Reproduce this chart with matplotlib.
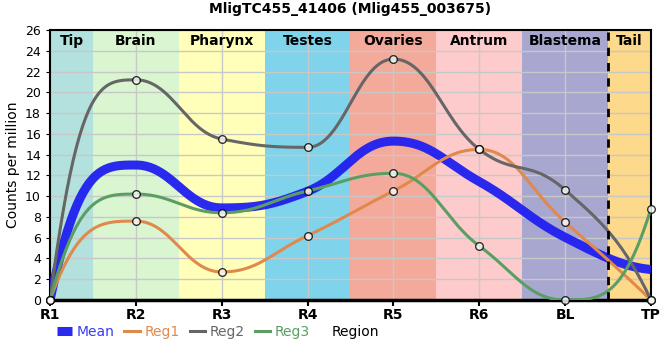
import matplotlib.pyplot as plt
import numpy as np

regions = ['R1', 'R2', 'R3', 'R4', 'R5', 'R6', 'BL', 'TP']
reg1 = [0, 7.6, 2.7, 6.2, 10.5, 14.5, 7.5, 0]
reg2 = [0, 21.2, 15.5, 14.7, 23.2, 14.5, 10.6, 0]
reg3 = [0, 10.2, 8.4, 10.5, 12.2, 5.2, 0, 8.8]
mean = list(np.mean([reg1, reg2, reg3], axis=0))

band_names = ['Tip', 'Brain', 'Pharynx', 'Testes', 'Ovaries', 'Antrum', 'Blastema', 'Tail']
band_edges = [0, 0.5, 1.5, 2.5, 3.5, 4.5, 5.5, 6.5, 7]
band_colors = ['#b3e1dd', '#d9f6d1', '#ffffb9', '#7fd3ea', '#f4aa9b', '#fdcbcb', '#a8a7cf', '#fdd98b']


def monotone(x, y, n=50, k=0.42):
    # monotone cubic, steep end tangents + long handles like the original chart
    x = np.asarray(x, float)
    y = np.asarray(y, float)
    h = np.diff(x)
    s = np.diff(y) / h
    t = np.zeros(len(x))
    for i in range(1, len(x) - 1):
        p = (s[i - 1] * h[i] + s[i] * h[i - 1]) / (h[i - 1] + h[i])
        t[i] = (np.sign(s[i - 1]) + np.sign(s[i])) * min(abs(s[i - 1]), abs(s[i]), 0.5 * abs(p))
    t[0] = 3 * s[0] - 2 * t[1]
    t[-1] = 3 * s[-1] - 2 * t[-2]
    if np.sign(t[0]) != np.sign(s[0]):
        t[0] = 0
    if np.sign(t[-1]) != np.sign(s[-1]):
        t[-1] = 0
    xs, ys = [], []
    last = len(x) - 1
    for i in range(last):
        u = np.linspace(0, 1, n)
        x0, x1 = x[i], x[i + 1]
        d0 = (x1 - x0) * (1 / 3 if i == 0 else k)
        d1 = (x1 - x0) * (1 / 3 if i + 1 == last else k)
        px = [x0, x0 + d0, x1 - d1, x1]
        py = [y[i], y[i] + d0 * t[i], y[i + 1] - d1 * t[i + 1], y[i + 1]]
        b = [(1 - u) ** 3, 3 * u * (1 - u) ** 2, 3 * u ** 2 * (1 - u), u ** 3]
        xs.append(sum(bb * pp for bb, pp in zip(b, px)))
        ys.append(sum(bb * pp for bb, pp in zip(b, py)))
    return np.concatenate(xs), np.concatenate(ys)


fig = plt.figure(figsize=(6.6, 3.6), dpi=100)
ax = fig.add_axes([50 / 660, 60 / 360, 601 / 660, 270 / 360])

for i, name in enumerate(band_names):
    ax.axvspan(band_edges[i], band_edges[i + 1], color=band_colors[i], zorder=0, lw=0)
    ax.text((band_edges[i] + band_edges[i + 1]) / 2, 25.6, name, ha='center', va='top',
            fontsize=10, fontweight='bold', zorder=5)
ax.axvline(6.5, color='black', ls=(0, (3, 2.5)), lw=2, zorder=4)

xi = np.arange(len(regions))
ax.set_xlim(0, 7)
ax.set_ylim(0, 26)
ax.set_yticks(range(0, 27, 2))
ax.set_xticks(xi)
ax.set_xticklabels(regions, fontweight='bold', fontsize=10)
ax.tick_params(axis='y', labelsize=9, length=3)
ax.tick_params(axis='x', length=4, width=1.5, pad=2)
ax.grid(True, color='#c8c8c8', lw=1, zorder=1)
ax.set_axisbelow(True)
for sp in ax.spines.values():
    sp.set_linewidth(1.5)
ax.spines['bottom'].set_linewidth(2.5)

xm, ym = monotone(xi, mean)
ax.plot(xm, ym, color='#1f1ff0', lw=6.5, alpha=0.95, zorder=3, solid_capstyle='butt', label='Mean')
series = [(reg1, '#e0894c', 'Reg1'), (reg2, '#666666', 'Reg2'), (reg3, '#5b9e64', 'Reg3')]
for vals, col, lab in series:
    xs, ys = monotone(xi, vals)
    ax.plot(xs, ys, color=col, lw=2.2, zorder=3, label=lab)
for vals, col, lab in series:
    ax.plot(xi, vals, 'o', ms=5.5, mfc='#ffffff', mec='black', mew=1, alpha=0.8, zorder=6, clip_on=False)

ax.set_ylabel('Counts per million', fontsize=10)
ax.set_title('MligTC455_41406 (Mlig455_003675)', fontsize=10, fontweight='bold', pad=12)

leg = ax.legend(loc='upper left', bbox_to_anchor=(-0.005, -0.055), ncol=4, frameon=False,
                fontsize=10, handlelength=1.1, handletextpad=0.35, columnspacing=0.7,
                borderpad=0.2)
for txt, col in zip(leg.get_texts(), ['#3b3bf5', '#e0894c', '#666666', '#5b9e64']):
    txt.set_color(col)
fig.text(332 / 660, 1 - 332 / 360, 'Region', ha='left', va='center', fontsize=10)

fig.savefig('out.png', dpi=100)
